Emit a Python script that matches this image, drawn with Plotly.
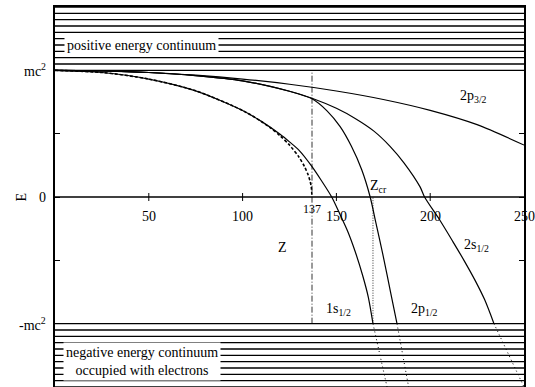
import plotly.graph_objects as go

# ---- data ----
Z_2p32 = [0, 25, 50, 75, 100, 125, 150, 175, 200, 225, 250]
E_2p32 = [1.0, 0.996, 0.983, 0.962, 0.931, 0.890, 0.837, 0.770, 0.684, 0.571, 0.410]

Z_1s = [0, 25, 50, 75, 100, 110, 120, 125, 130, 137, 142, 147.5, 152, 156, 160, 164, 167, 169.5]
E_1s = [1.0, 0.983, 0.931, 0.838, 0.683, 0.597, 0.495, 0.435, 0.37, 0.24, 0.13, 0.0, -0.14, -0.27, -0.43, -0.62, -0.79, -1.0]
Z_1s_cont = [169.5, 177]
E_1s_cont = [-1.0, -1.5]

Z_1s_point = [0, 25, 50, 75, 100, 110, 115, 120, 125, 130, 133, 135, 136, 136.6, 137]
E_1s_point = [1.0, 0.983, 0.931, 0.838, 0.683, 0.596, 0.544, 0.483, 0.41, 0.316, 0.24, 0.172, 0.123, 0.08, 0.0]

Z_2p12 = [0, 25, 50, 75, 100, 125, 137, 145, 152, 158, 163.5, 168, 171, 175, 179, 182.3]
E_2p12 = [1.0, 0.996, 0.983, 0.958, 0.917, 0.835, 0.775, 0.68, 0.555, 0.40, 0.215, 0.0, -0.2, -0.47, -0.76, -1.0]
Z_2p12_cont = [182.3, 188.5]
E_2p12_cont = [-1.0, -1.5]

Z_2s = [0, 25, 50, 75, 100, 125, 137, 150, 160, 170, 178.6, 186, 194.6, 197, 205, 212, 218, 224, 229, 234]
E_2s = [1.0, 0.996, 0.983, 0.958, 0.917, 0.835, 0.78, 0.70, 0.62, 0.52, 0.40, 0.27, 0.08, 0.0, -0.18, -0.35, -0.5, -0.66, -0.81, -1.0]
Z_2s_cont = [234, 250]
E_2s_cont = [-1.0, -1.5]

pos_levels = [1.0, 1.05, 1.1, 1.15, 1.2, 1.25, 1.3, 1.35, 1.4, 1.45, 1.5]
neg_levels = [-1.0, -1.05, -1.1, -1.15, -1.2, -1.25, -1.3, -1.35, -1.4, -1.45, -1.5]

x_ticks = [50, 100, 150, 200, 250]
x_ticklabels = ["50", "100", "150", "200", "250"]
y_ticks = [-1, -0.5, 0, 0.5, 1]
y_labels = {1: "mc<sup>2</sup>", 0: "0", -1: "-mc<sup>2</sup>"}
Z_limit = 137
Z_cr = 169.5

FONT = "Liberation Serif"
fig = go.Figure()

black = "black"
# continuum levels
for lv in pos_levels + neg_levels:
    fig.add_trace(go.Scatter(x=[0, 250], y=[lv, lv], mode="lines",
                             line=dict(color=black, width=1.3), hoverinfo="skip"))
# zero line
fig.add_trace(go.Scatter(x=[0, 250], y=[0, 0], mode="lines",
                         line=dict(color=black, width=1.3), hoverinfo="skip"))
# Z=137 dash-dot line
fig.add_trace(go.Scatter(x=[Z_limit, Z_limit], y=[-1, 1], mode="lines",
                         line=dict(color=black, width=0.8, dash="6px,2px,1px,2px")))
# Zcr dotted line
fig.add_trace(go.Scatter(x=[Z_cr, Z_cr], y=[-1, 0], mode="lines",
                         line=dict(color=black, width=0.8, dash="1px,1.5px")))

def curve(x, y, dash="solid", width=1.2):
    fig.add_trace(go.Scatter(x=x, y=y, mode="lines",
                             line=dict(color=black, width=width, dash=dash, shape="spline", smoothing=0.8)))

curve(Z_1s_point, E_1s_point, dash="3px,2px", width=1.6)
curve(Z_1s, E_1s)
curve(Z_2p32, E_2p32)
curve(Z_2p12, E_2p12)
curve(Z_2s, E_2s)
for zx, ey in [(Z_1s_cont, E_1s_cont), (Z_2p12_cont, E_2p12_cont), (Z_2s_cont, E_2s_cont)]:
    fig.add_trace(go.Scatter(x=zx, y=ey, mode="lines",
                             line=dict(color=black, width=1.0, dash="1px,3px")))

# x tick marks on zero line
for t in x_ticks[:-1]:
    fig.add_shape(type="line", xref="x", yref="y", x0=t, x1=t, y0=-4, y1=4,
                  ysizemode="pixel", yanchor=0, line=dict(color=black, width=1))

ann = []
for t, lab in zip(x_ticks, x_ticklabels):
    ann.append(dict(x=t, y=0, xref="x", yref="y", text=lab, showarrow=False,
                    yshift=-19, font=dict(size=14)))
ann.append(dict(x=Z_limit, y=0, xref="x", yref="y", text=str(Z_limit), showarrow=False,
                yshift=-12, font=dict(size=12)))
for v, lab in y_labels.items():
    ann.append(dict(x=0, y=v, xref="paper", yref="y", text=lab, showarrow=False,
                    xanchor="right", xshift=-7, font=dict(size=14)))
ann.append(dict(x=0, y=0, xref="paper", yref="y", text="E", showarrow=False,
                xshift=-44, textangle=-90, font=dict(size=14)))
ann.append(dict(x=121.5, y=-0.395, text="Z", showarrow=False, font=dict(size=14)))
ann.append(dict(x=172.7, y=0.08, text="Z<sub>cr</sub>", showarrow=False, font=dict(size=14)))
ann.append(dict(x=223.0, y=0.79, text="2p<sub>3/2</sub>", showarrow=False, font=dict(size=14)))
ann.append(dict(x=224.5, y=-0.38, text="2s<sub>1/2</sub>", showarrow=False, font=dict(size=14)))
ann.append(dict(x=151.2, y=-0.89, text="1s<sub>1/2</sub>", showarrow=False, font=dict(size=14)))
ann.append(dict(x=196.7, y=-0.89, text="2p<sub>1/2</sub>", showarrow=False, font=dict(size=14)))
ann.append(dict(x=46.1, y=1.2, text="positive energy continuum", showarrow=False,
                bgcolor="white", borderpad=2, font=dict(size=14)))
ann.append(dict(x=46.6, y=-1.295, text="negative energy continuum<br>occupied with electrons",
                showarrow=False, bgcolor="white", borderpad=2, font=dict(size=14)))

fig.update_layout(
    width=535, height=387,
    margin=dict(l=55, r=11, t=7, b=0),
    paper_bgcolor="white", plot_bgcolor="white",
    showlegend=False,
    font=dict(family=FONT, color="black", size=14),
    annotations=ann,
    xaxis=dict(range=[0, 250], showgrid=False, zeroline=False, showticklabels=False,
               showline=True, mirror=True, linecolor=black, linewidth=1.5, ticks=""),
    yaxis=dict(range=[-1.5, 1.5], showgrid=False, zeroline=False, showticklabels=False,
               showline=True, mirror="ticks", linecolor=black, linewidth=1.5,
               ticks="inside", tickvals=y_ticks, ticklen=5, tickcolor=black, tickwidth=1),
)
fig.write_html("out.html", config={"displayModeBar": False},
               post_script="document.body.style.margin='0';document.body.style.overflow='hidden';")
